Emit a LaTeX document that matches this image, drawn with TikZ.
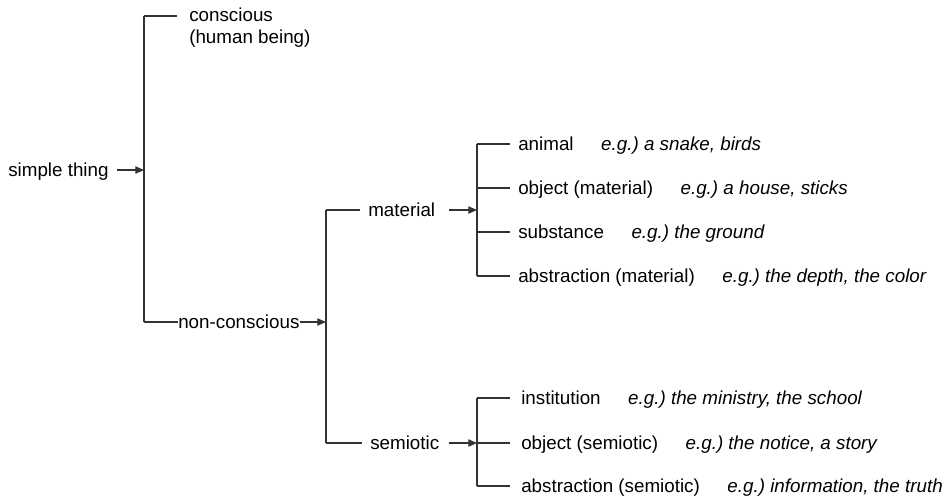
\documentclass[tikz,border=0pt]{standalone}
\usepackage{fontspec}
\setmainfont{Liberation Sans}
\usetikzlibrary{arrows.meta,calc}
\frenchspacing
\begin{document}
\begin{tikzpicture}[x=0.75pt,y=-0.75pt,
  lbl/.style={anchor=base west, inner sep=0pt, font=\fontsize{14.1}{17}\selectfont},
  ex/.style={lbl, font=\fontsize{14.1}{17}\selectfont\itshape},
  ln/.style={draw=black!80, line width=0.8pt},
  arr/.style={ln, -{Triangle[length=6.5pt,width=5.5pt]}}]
\useasboundingbox (0,0) rectangle (948,497);
\def\bo{6.5}
% level 1
\node[lbl] (st) at (8,170+\bo) {simple thing};
\coordinate (b1t) at (144,16);
\coordinate (b1m) at (144,170);
\coordinate (b1b) at (144,322);
\node[lbl] (con) at (189,15+\bo) {conscious};
\node[lbl] (hum) at (189,37+\bo) {(human being)};
\node[lbl] (nc) at (178,322+\bo) {non-conscious};
\draw[ln] (b1t) -- (b1b);
\draw[arr] ($(b1m)+(-27,0)$) -- (b1m);
\draw[ln, shorten >=9pt] (b1t) -- (b1t -| con.west);
\draw[ln] (b1b) -- (b1b -| nc.west);
% level 2
\coordinate (b2t) at (326,210);
\coordinate (b2b) at (326,443);
\draw[arr] (b1b -| nc.east) -- (b1b -| b2t);
\node[lbl] (mat) at (368,210+\bo) {material};
\node[lbl] (sem) at (370,443+\bo) {semiotic};
\draw[ln] (b2t) -- (b2b);
\draw[ln, shorten >=6pt] (b2t) -- (b2t -| mat.west);
\draw[ln, shorten >=6pt] (b2b) -- (b2b -| sem.west);
% level 3 material
\coordinate (m1) at (477,144);
\coordinate (m2) at (477,188);
\coordinate (m3) at (477,232);
\coordinate (m4) at (477,276);
\coordinate (mm) at (477,210);
\draw[arr] ($(mm)+(-28,0)$) -- (mm);
\draw[ln] (m1) -- (m4);
\node[lbl] (a1) at (518,144+\bo) {animal};
\node[lbl] (a2) at (518,188+\bo) {object (material)};
\node[lbl] (a3) at (518,232+\bo) {substance};
\node[lbl] (a4) at (518,276+\bo) {abstraction (material)};
\foreach \i in {1,...,4} {
  \draw[ln, shorten >=6pt] (m\i) -- (m\i -| a\i.west);
}
\node[ex] (e1) at ($(a1.base east)+(27,0)$) {e.g.) a snake, birds};
\node[ex] (e2) at ($(a2.base east)+(27,0)$) {e.g.) a house, sticks};
\node[ex] (e3) at ($(a3.base east)+(27,0)$) {e.g.) the ground};
\node[ex] (e4) at ($(a4.base east)+(27,0)$) {e.g.) the depth, the color};
% level 3 semiotic
\coordinate (s1) at (477,398);
\coordinate (s2) at (477,443);
\coordinate (s3) at (477,486);
\draw[arr] ($(s2)+(-28,0)$) -- (s2);
\draw[ln] (s1) -- (s3);
\node[lbl] (c1) at (521,398+\bo) {institution};
\node[lbl] (c2) at (521,443+\bo) {object (semiotic)};
\node[lbl] (c3) at (521,486+\bo) {abstraction (semiotic)};
\foreach \i in {1,...,3} {
  \draw[ln, shorten >=8.25pt] (s\i) -- (s\i -| c\i.west);
}
\node[ex] (f1) at ($(c1.base east)+(27,0)$) {e.g.) the ministry, the school};
\node[ex] (f2) at ($(c2.base east)+(27,0)$) {e.g.) the notice, a story};
\node[ex] (f3) at ($(c3.base east)+(27,0)$) {e.g.) information, the truth};
\end{tikzpicture}
\end{document}
